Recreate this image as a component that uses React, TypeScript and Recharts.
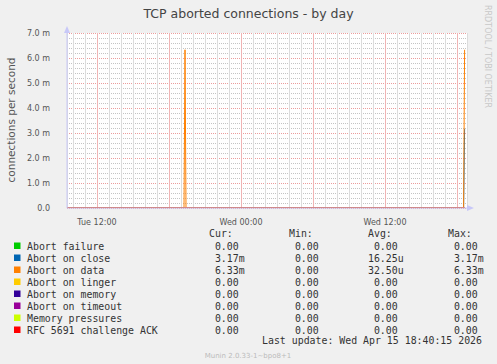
import React from 'react';
import { LineChart, Line, XAxis, YAxis, CartesianGrid } from 'recharts';

// time in minutes relative to Wed 00:00
const times = [-870, -285, -280, -275, 1113, 1118];

const abortFailure = [0, 0, 0, 0, 0, 0];
const abortOnClose = [0, 0, 0, 0, 0, 0.00317];
const abortOnData = [0, 0, 0.00633, 0, 0, 0.00633];
const abortOnLinger = [0, 0, 0, 0, 0, 0];
const abortOnMemory = [0, 0, 0, 0, 0, 0];
const abortOnTimeout = [0, 0, 0, 0, 0, 0];
const memoryPressures = [0, 0, 0, 0, 0, 0];
const rfc5691 = [0, 0, 0, 0, 0, 0];

const seriesNames = [
  'Abort failure',
  'Abort on close',
  'Abort on data',
  'Abort on linger',
  'Abort on memory',
  'Abort on timeout',
  'Memory pressures',
  'RFC 5691 challenge ACK',
];
const seriesColors = ['#00cc00', '#0066b3', '#ff8000', '#ffcc00', '#330099', '#990099', '#ccff00', '#ff0000'];
const seriesValues = [
  abortFailure,
  abortOnClose,
  abortOnData,
  abortOnLinger,
  abortOnMemory,
  abortOnTimeout,
  memoryPressures,
  rfc5691,
];

const curValues = [0, 0.00317, 0.00633, 0, 0, 0, 0, 0];
const minValues = [0, 0, 0, 0, 0, 0, 0, 0];
const avgValues = [0, 0.00001625, 0.0000325, 0, 0, 0, 0, 0];
const maxValues = [0, 0.00317, 0.00633, 0, 0, 0, 0, 0];

// y grid every 0.2m, labelled every 1.0m
const yGrid = [
  0, 0.0002, 0.0004, 0.0006, 0.0008, 0.001, 0.0012, 0.0014, 0.0016, 0.0018, 0.002, 0.0022, 0.0024, 0.0026,
  0.0028, 0.003, 0.0032, 0.0034, 0.0036, 0.0038, 0.004, 0.0042, 0.0044, 0.0046, 0.0048, 0.005, 0.0052,
  0.0054, 0.0056, 0.0058, 0.006, 0.0062, 0.0064, 0.0066, 0.0068, 0.007,
];
const yMajor = [0, 0.001, 0.002, 0.003, 0.004, 0.005, 0.006, 0.007];
// x grid every hour, major every 6h, labelled every 12h
const xGrid = [
  -840, -780, -720, -660, -600, -540, -480, -420, -360, -300, -240, -180, -120, -60, 0, 60, 120, 180, 240,
  300, 360, 420, 480, 540, 600, 660, 720, 780, 840, 900, 960, 1020, 1080,
];
const xMajor = [-720, -360, 0, 360, 720, 1080];
const xLabels = [-720, 0, 720];
const dayNames = ['Tue', 'Wed'];

const data = times.map((t, i) => {
  const row: Record<string, number> = { t };
  seriesValues.forEach((s, k) => {
    row['s' + k] = s[i];
  });
  return row;
});

const isMajorY = (v: number) => yMajor.some((m) => Math.abs(m - v) < 1e-9);
const fmtY = (v: number) => {
  if (!isMajorY(v)) return '';
  return v === 0 ? '0.0' : `${(v * 1000).toFixed(1)} m`;
};
const fmtX = (m: number) => {
  if (!xLabels.includes(m)) return '';
  const day = Math.floor(m / 1440);
  const mm = ((m % 1440) + 1440) % 1440;
  const h = Math.floor(mm / 60);
  const mi = mm % 60;
  return `${dayNames[day + 1]} ${String(h).padStart(2, '0')}:${String(mi).padStart(2, '0')}`;
};
const fmtVal = (v: number) => {
  if (v === 0) return '  0.00 ';
  if (v >= 0.001) return (v * 1000).toFixed(2).padStart(6, ' ') + 'm';
  return (v * 1e6).toFixed(2).padStart(6, ' ') + 'u';
};

// grid lines snapped to the pixel grid so they stay crisp
const hLine = (p: any) => {
  const y = Math.round(Number(p.y1)) + 0.5;
  const major = yGrid.findIndex((v) => isMajorY(v)) >= 0 && p.index !== undefined && isMajorY(yGrid[p.index] ?? -1);
  return (
    <line
      key={p.key}
      x1={p.x1}
      x2={p.x2}
      y1={y}
      y2={y}
      stroke={major ? '#ec9c9c' : '#c4c4c4'}
      strokeWidth={1}
      strokeDasharray="1 1"
    />
  );
};
const vLine = (p: any) => {
  const x = Math.round(Number(p.x1)) + 0.5;
  const major = p.index !== undefined && xMajor.includes(xGrid[p.index]);
  return (
    <line
      key={p.key}
      x1={x}
      x2={x}
      y1={p.y1}
      y2={p.y2}
      stroke={major ? '#f0b4b4' : '#dcdcdc'}
      strokeWidth={1}
    />
  );
};

const mono = '"DejaVu Sans Mono", monospace';
const sans = '"DejaVu Sans", sans-serif';

export default function App() {
  return (
    <div style={{ position: 'absolute', left: 0, top: 0, width: 497, height: 364, background: '#f0f0f0' }}>
      <LineChart width={497} height={364} data={data} margin={{ top: 33, right: 30, bottom: 136, left: 0 }}>
        <CartesianGrid fill="#ffffff" fillOpacity={1} horizontal={hLine} vertical={vLine} />
        <XAxis
          dataKey="t"
          type="number"
          domain={[-870, 1130]}
          ticks={xGrid}
          interval={0}
          tickFormatter={fmtX}
          height={20}
          tickLine={false}
          tickMargin={5}
          axisLine={{ stroke: '#c8c8f8' }}
          tick={{ fontSize: 8, fill: '#555', fontFamily: sans }}
          allowDataOverflow
        />
        <YAxis
          type="number"
          domain={[0, 0.007]}
          ticks={yGrid}
          interval={0}
          tickFormatter={fmtY}
          width={67}
          tickLine={false}
          tickMargin={11}
          axisLine={{ stroke: '#c8c8f8' }}
          tick={{ fontSize: 8, fill: '#555', fontFamily: sans }}
          allowDataOverflow
        />
        {seriesNames.map((n, k) => (
          <Line
            key={n}
            dataKey={'s' + k}
            name={n}
            type="linear"
            stroke={seriesColors[k]}
            strokeWidth={1}
            dot={false}
            isAnimationActive={false}
          />
        ))}
      </LineChart>
      <svg width={497} height={364} style={{ position: 'absolute', left: 0, top: 0, pointerEvents: 'none' }}>
        <text x={248.5} y={18} textAnchor="middle" fontSize={12.5} fontFamily={sans} fill="#444">
          TCP aborted connections - by day
        </text>
        <text
          transform="translate(15,120) rotate(-90)"
          textAnchor="middle"
          fontSize={10.5}
          fontFamily={sans}
          fill="#555"
        >
          connections per second
        </text>
        <text transform="translate(485,5) rotate(90)" fontSize={8} fontFamily={sans} fill="#c8c8c8">
          RRDTOOL / TOBI OETIKER
        </text>
        <polygon points="64,33 70,33 67,26" fill="#c8c8f8" />
        <polygon points="467,205 467,211 474,208" fill="#c8c8f8" />
        {['Cur:', 'Min:', 'Avg:', 'Max:'].map((h, i) => (
          <text key={h} x={[209, 289, 368, 448][i]} y={237} fontSize={9.9} fontFamily={mono} fill="#333">
            {h}
          </text>
        ))}
        {seriesNames.map((n, k) => {
          const y = 249.5 + k * 12;
          const vals = [curValues[k], minValues[k], avgValues[k], maxValues[k]];
          return (
            <g key={n}>
              <rect x={14} y={y - 7} width={6.5} height={6.5} fill={seriesColors[k]} />
              <text x={27} y={y} fontSize={9.9} fontFamily={mono} fill="#333">
                {n}
              </text>
              {vals.map((v, j) => (
                <text
                  key={j}
                  x={[203, 283, 362, 442][j]}
                  y={y}
                  fontSize={9.9}
                  fontFamily={mono}
                  fill="#333"
                  xmlSpace="preserve"
                  style={{ whiteSpace: 'pre' }}
                >
                  {fmtVal(v)}
                </text>
              ))}
            </g>
          );
        })}
        <text x={482} y={344} textAnchor="end" fontSize={9.9} fontFamily={mono} fill="#333">
          Last update: Wed Apr 15 18:40:15 2026
        </text>
        <text x={248} y={358} textAnchor="middle" fontSize={7} fontFamily={sans} fill="#bbb">
          Munin 2.0.33-1~bpo8+1
        </text>
      </svg>
    </div>
  );
}
